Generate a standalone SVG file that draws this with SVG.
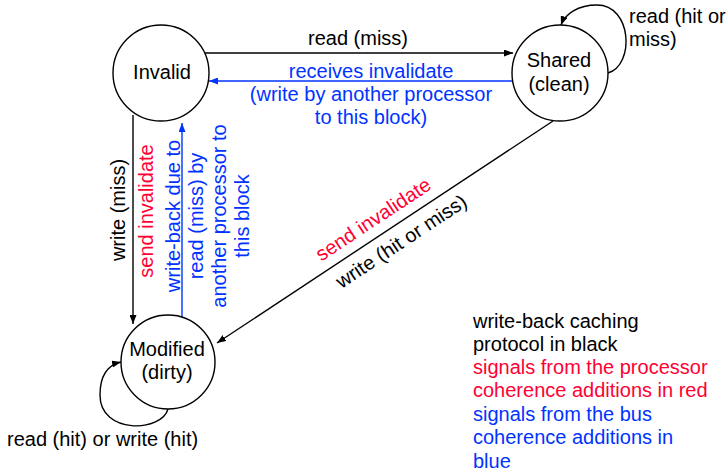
<svg xmlns="http://www.w3.org/2000/svg" width="728" height="472" viewBox="0 0 728 472">
<defs>
<style>
text{font-family:"Liberation Sans",Arial,sans-serif;font-size:20px;fill:#000}
.r{fill:#ff0033}
.b{fill:#0033ff}
.m{text-anchor:middle}
circle{fill:#fff;stroke:#000;stroke-width:1.4}
.cn{fill:none;stroke:#000;stroke-width:1.4}
.cb{fill:none;stroke:#0033ff;stroke-width:1.4}
</style>
<marker id="ak" viewBox="0 0 9 7" markerWidth="9" markerHeight="7" refX="9" refY="3.5" orient="auto" markerUnits="userSpaceOnUse"><path d="M0,0 L9,3.5 L0,7 z" fill="#000"/></marker>
<marker id="ab" viewBox="0 0 9 7" markerWidth="9" markerHeight="7" refX="9" refY="3.5" orient="auto" markerUnits="userSpaceOnUse"><path d="M0,0 L9,3.5 L0,7 z" fill="#0033ff"/></marker>
</defs>
<g id="connectors">
<line class="cn" x1="204" y1="53" x2="513" y2="53" marker-end="url(#ak)"/>
<line class="cb" x1="512" y1="81" x2="209" y2="81" marker-end="url(#ab)"/>
<line class="cn" x1="133" y1="115" x2="133" y2="324" marker-end="url(#ak)"/>
<line class="cb" x1="182" y1="317" x2="182" y2="123" marker-end="url(#ab)"/>
<line class="cn" x1="553" y1="121" x2="217" y2="343" marker-end="url(#ak)"/>
<path class="cn" d="M608 73 C635 65 632 5 597 5 C578 5 565 14 561 25" marker-end="url(#ak)"/>
<path class="cn" d="M168 409 C162 432 100 435 100 395 C100 375 108 365 121 362" marker-end="url(#ak)"/>
</g>
<g id="invalid">
<circle cx="161" cy="73" r="48"/>
<text class="m" x="162" y="79">Invalid</text>
</g>
<g id="shared">
<circle cx="560" cy="73" r="48"/>
<text class="m" x="559" y="67">Shared</text>
<text class="m" x="559" y="91">(clean)</text>
</g>
<g id="modified">
<circle cx="168" cy="362" r="47"/>
<text class="m" x="167" y="356">Modified</text>
<text class="m" x="167" y="379">(dirty)</text>
</g>
<g id="labels">
<text class="m" x="358" y="45">read (miss)</text>
<text class="m b" x="371" y="78">receives invalidate</text>
<text class="m b" x="371" y="101">(write by another processor</text>
<text class="m b" x="371" y="124">to this block)</text>
<text x="629" y="23">read (hit or</text>
<text x="629" y="46">miss)</text>
<text class="m" transform="translate(125,210) rotate(-90)">write (miss)</text>
<text class="m r" transform="translate(153,211) rotate(-90)">send invalidate</text>
<text class="m b" transform="translate(180,216) rotate(-90)"><tspan x="0" y="0">write-back due to</tspan><tspan x="0" y="23">read (miss) by</tspan><tspan x="0" y="46">another processor to</tspan><tspan x="0" y="69">this block</tspan></text>
<text class="m r" transform="translate(377,225) rotate(-33.46)">send invalidate</text>
<text class="m" transform="translate(405,247) rotate(-33.46)">write (hit or miss)</text>
<text x="7" y="446">read (hit) or write (hit)</text>
</g>
<g id="legend">
<text x="473" y="328">write-back caching</text>
<text x="473" y="351">protocol in black</text>
<text class="r" x="473" y="374">signals from the processor</text>
<text class="r" x="473" y="397">coherence additions in red</text>
<text class="b" x="473" y="421">signals from the bus</text>
<text class="b" x="473" y="444">coherence additions in</text>
<text class="b" x="473" y="468">blue</text>
</g>
</svg>
